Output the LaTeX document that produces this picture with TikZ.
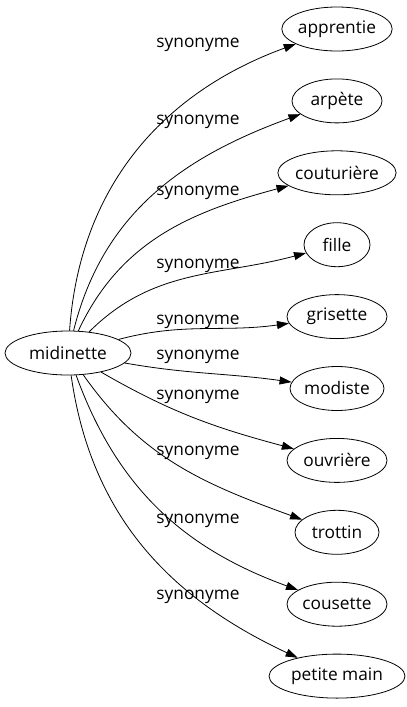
\documentclass[tikz,border=0pt]{standalone}
\usepackage{fontspec}
\setmainfont{Open Sans}
\usetikzlibrary{shapes.geometric,arrows.meta}
\begin{document}
\begin{tikzpicture}[x=1pt,y=1pt,
  every node/.style={font=\fontsize{17.3}{20}\selectfont},
  word/.style={ellipse,draw,line width=0.8pt,inner sep=0pt,minimum height=44pt},
  syn/.style={-{Triangle[length=12pt,width=8pt]},line width=0.8pt},
  lab/.style={inner sep=0pt}]
\useasboundingbox (0,0) rectangle (407,-707);
\node[word,minimum width=126pt] (m) at (68,-353) {midinette};
\node[word,minimum width=110pt] (t1) at (337,-29) {apprentie};
\node[word,minimum width=90pt] (t2) at (337,-100.9) {arpète};
\node[word,minimum width=118pt] (t3) at (337,-172.8) {couturière};
\node[word,minimum width=66pt] (t4) at (337,-244.7) {fille};
\node[word,minimum width=100pt] (t5) at (337,-316.6) {grisette};
\node[word,minimum width=94pt] (t6) at (337,-388.5) {modiste};
\node[word,minimum width=100pt] (t7) at (337,-460.4) {ouvrière};
\node[word,minimum width=84pt] (t8) at (337,-532.3) {trottin};
\node[word,minimum width=100pt] (t9) at (337,-604.2) {cousette};
\node[word,minimum width=136pt] (t10) at (337,-676.1) {petite main};
\draw[syn] (m) to[out=86,in=200] (t1);
\draw[syn] (m) to[out=76,in=200] (t2);
\draw[syn] (m) to[out=65,in=195] (t3);
\draw[syn] (m) to[out=45,in=195] (t4);
\draw[syn] (m) to[out=15,in=188] (t5);
\draw[syn] (m) to[out=-10,in=172] (t6);
\draw[syn] (m) to[out=-30,in=165] (t7);
\draw[syn] (m) to[out=-55,in=160] (t8);
\draw[syn] (m) to[out=-70,in=160] (t9);
\draw[syn] (m) to[out=-82,in=155] (t10);
\node[lab] (l1) at (198,-45) {synonyme};
\node[lab] (l2) at (198,-122) {synonyme};
\node[lab] (l3) at (198,-193) {synonyme};
\node[lab] (l4) at (198,-266) {synonyme};
\node[lab] (l5) at (198,-322) {synonyme};
\node[lab] (l6) at (198,-357) {synonyme};
\node[lab] (l7) at (198,-397) {synonyme};
\node[lab] (l8) at (198,-453) {synonyme};
\node[lab] (l9) at (198,-521) {synonyme};
\node[lab] (l10) at (198,-597) {synonyme};
\end{tikzpicture}
\end{document}
